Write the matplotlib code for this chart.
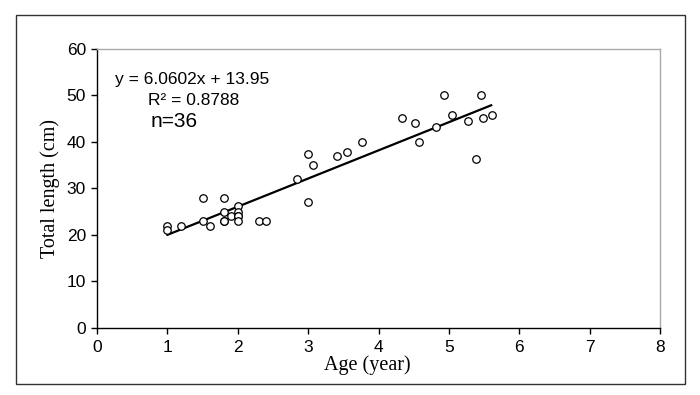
import matplotlib
matplotlib.use("Agg")
import matplotlib.pyplot as plt
from matplotlib.patches import Rectangle

# age (year) and total length (cm)
age = [1.0, 1.0, 1.2, 1.5, 1.5, 1.6, 1.8, 1.8, 1.8, 1.8, 1.9, 2.0, 2.0, 2.0, 2.0, 2.0, 2.3, 2.4,
       2.84, 3.0, 3.0, 3.07, 3.41, 3.55, 3.77, 4.34, 4.52, 4.57, 4.82, 4.93, 5.04, 5.27, 5.38,
       5.46, 5.49, 5.61]
length = [22, 21, 22, 28, 23, 22, 28, 25, 23, 23, 24, 26.2, 25, 24, 24, 23, 23, 23,
          32, 37.5, 27.1, 35, 37, 37.9, 40, 45.1, 44.1, 40, 43.2, 50, 45.9, 44.6, 36.4,
          50, 45.2, 45.9]

slope = 6.0602
intercept = 13.95
fit_x = [1.0, 5.6]

xticks = [0, 1, 2, 3, 4, 5, 6, 7, 8]
yticks = [0, 10, 20, 30, 40, 50, 60]

fig = plt.figure(figsize=(7, 3.95), dpi=100)
ax = fig.add_axes([0.1386, 0.170, 0.8044, 0.706])

# outer frame around the whole figure
fig.patches.append(Rectangle((0.023, 0.028), 0.956, 0.934, transform=fig.transFigure,
                             fill=False, edgecolor="#333333", linewidth=1.0))

ax.plot(age, length, "o", markerfacecolor="white", markeredgecolor="black",
        markersize=5.4, markeredgewidth=0.9, linestyle="none", zorder=3)
ax.plot(fit_x, [slope * x + intercept for x in fit_x], color="black", linewidth=1.6, zorder=2)

ax.set_xlim(0, 8)
ax.set_ylim(0, 60)
ax.set_xticks(xticks)
ax.set_yticks(yticks)
ax.tick_params(direction="out", length=4, width=1, labelsize=12.5)
ax.tick_params(axis="x", pad=5)
ax.tick_params(axis="y", pad=4)
for lab in ax.get_xticklabels() + ax.get_yticklabels():
    lab.set_family("Liberation Sans")

ax.spines["left"].set_color("black")
ax.spines["bottom"].set_color("black")
ax.spines["top"].set_color("#aaaaaa")
ax.spines["right"].set_color("#aaaaaa")
for s in ax.spines.values():
    s.set_linewidth(1)

ax.set_xlabel("Age (year)", family="Liberation Serif", fontsize=14.5, labelpad=0)
ax.xaxis.set_label_coords(0.48, -0.1)
ax.set_ylabel("Total length (cm)", family="Liberation Serif", fontsize=14.5, labelpad=5)

ax.text(0.26, 53.5, "y = 6.0602x + 13.95", family="Liberation Sans", fontsize=12.5, va="center")
ax.text(0.72, 49.0, "R² = 0.8788", family="Liberation Sans", fontsize=12.5, va="center")
ax.text(0.76, 44.5, "n=36", family="Liberation Sans", fontsize=15, va="center")

fig.savefig("out.png", dpi=100)
